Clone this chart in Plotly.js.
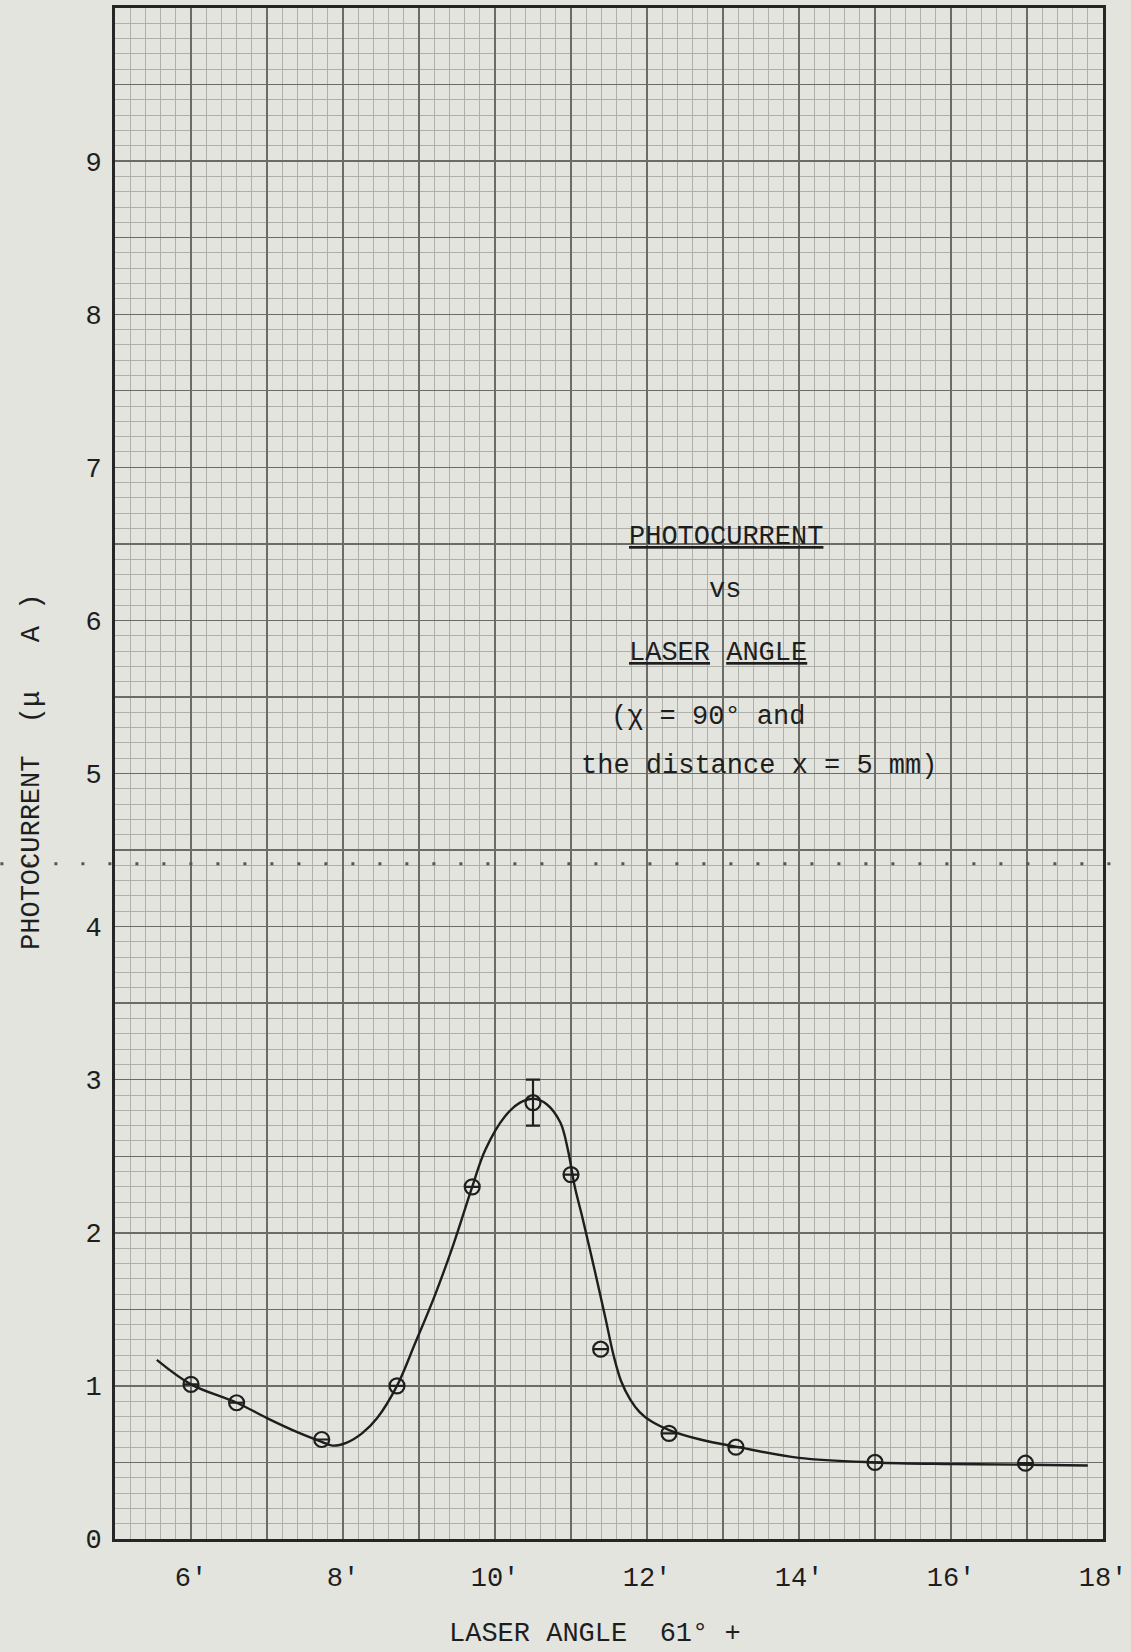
<!DOCTYPE html>
<html>
<head>
<meta charset="utf-8">
<script src="https://cdn.plot.ly/plotly-3.0.1.min.js"></script>
<style>
  html, body { margin: 0; padding: 0; background: #e3e4de; }
  #chart { width: 1131px; height: 1652px; }
</style>
</head>
<body>
<div id="chart"></div>
<script>
// Measured points (laser angle in minutes beyond 61°, photocurrent in µA)
const pointAngle   = [6.0, 6.6, 7.72, 8.71, 9.70, 10.50, 11.0, 11.39, 12.29, 13.17, 15.0, 16.98];
const pointCurrent = [1.01, 0.89, 0.65, 1.00, 2.30, 2.85, 2.38, 1.24, 0.69, 0.60, 0.50, 0.495];
// Error bar (only on the peak point)
const pointError   = [null, null, null, null, null, 0.15, null, null, null, null, null, null];

// Hand-drawn fitted curve
const curveAngle   = [5.55, 6.0, 6.6, 7.04, 7.39, 7.72, 7.86, 8.05, 8.25, 8.45, 8.71, 8.95, 9.2, 9.45, 9.70, 9.87, 10.13, 10.33, 10.52, 10.68, 10.86, 10.96, 11.05, 11.15, 11.3, 11.45, 11.56, 11.66, 11.78, 11.9, 12.05, 12.3, 12.7, 13.2, 14.0, 15.0, 16.0, 17.0, 17.8];
const curveCurrent = [1.17, 1.01, 0.89, 0.78, 0.70, 0.635, 0.61, 0.63, 0.69, 0.79, 1.0, 1.28, 1.58, 1.92, 2.30, 2.54, 2.76, 2.85, 2.875, 2.84, 2.72, 2.54, 2.30, 2.10, 1.78, 1.45, 1.20, 1.03, 0.91, 0.83, 0.77, 0.71, 0.65, 0.60, 0.53, 0.50, 0.49, 0.485, 0.48];

// Axis ticks / labels
const xTickVals  = [5, 6, 7, 8, 9, 10, 11, 12, 13, 14, 15, 16, 17, 18];
const xTickText  = ["", "6'", "", "8'", "", "10'", "", "12'", "", "14'", "", "16'", "", "18'"];
const yTickVals  = [0, 0.5, 1, 1.5, 2, 2.5, 3, 3.5, 4, 4.5, 5, 5.5, 6, 6.5, 7, 7.5, 8, 8.5, 9, 9.5, 10];
const yTickText  = ["0", "", "1", "", "2", "", "3", "", "4", "", "5", "", "6", "", "7", "", "8", "", "9", "", ""];

const dottedLineLevel = 4.41;

const FONT = "Liberation Mono, Courier New, monospace";
const INK = "#1e1e1e";

const traces = [
  {
    x: curveAngle, y: curveCurrent,
    type: "scatter", mode: "lines",
    line: { color: INK, width: 2.4, shape: "spline", smoothing: 1 },
    hoverinfo: "skip", showlegend: false
  },
  {
    x: pointAngle, y: pointCurrent,
    type: "scatter", mode: "markers",
    marker: { symbol: "circle-open", size: 15, color: INK, line: { color: INK, width: 2.2 } },
    error_y: { type: "data", array: pointError, visible: true, color: INK, thickness: 2.2, width: 7 },
    showlegend: false
  }
];

const layout = {
  width: 1131, height: 1652,
  margin: { l: 115, r: 28, t: 8, b: 113 },
  paper_bgcolor: "#e3e4de",
  plot_bgcolor: "#e3e4de",
  font: { family: FONT, color: INK, size: 27 },
  showlegend: false,
  xaxis: {
    range: [5, 18],
    tickmode: "array", tickvals: xTickVals, ticktext: xTickText,
    ticks: "", ticklabelstandoff: 12,
    showgrid: true, gridcolor: "#6b6b68", gridwidth: 1.4,
    minor: { tick0: 5, dtick: 0.2, showgrid: true, gridcolor: "#b0b0ab", gridwidth: 1 },
    showline: true, linecolor: "#262626", linewidth: 3, mirror: true,
    zeroline: false,
    tickfont: { family: FONT, size: 27, color: INK }
  },
  yaxis: {
    range: [0, 10],
    tickmode: "array", tickvals: yTickVals, ticktext: yTickText,
    ticks: "", ticklabelstandoff: 5,
    showgrid: true, gridcolor: "#6b6b68", gridwidth: 1.4,
    minor: { tick0: 0, dtick: 0.1, showgrid: true, gridcolor: "#b0b0ab", gridwidth: 1 },
    showline: true, linecolor: "#262626", linewidth: 3, mirror: true,
    zeroline: false,
    tickfont: { family: FONT, size: 27, color: INK }
  },
  shapes: [
    {
      type: "line", xref: "paper", yref: "y",
      x0: -0.116, x1: 1.02, y0: dottedLineLevel, y1: dottedLineLevel,
      line: { color: "#555", width: 3, dash: "3px,24px" }
    }
  ],
  annotations: [
    { text: "<u>PHOTOCURRENT</u>", x: 11.74, y: 6.545, xref: "x", yref: "y", xanchor: "left", yanchor: "middle", showarrow: false, font: { family: FONT, size: 27, color: INK } },
    { text: "vs", x: 13.03, y: 6.20, xref: "x", yref: "y", xanchor: "center", yanchor: "middle", showarrow: false, font: { family: FONT, size: 27, color: INK } },
    { text: "<u>LASER</u> <u>ANGLE</u>", x: 11.74, y: 5.785, xref: "x", yref: "y", xanchor: "left", yanchor: "middle", showarrow: false, font: { family: FONT, size: 27, color: INK } },
    { text: "(χ = 90° and", x: 11.5, y: 5.37, xref: "x", yref: "y", xanchor: "left", yanchor: "middle", showarrow: false, font: { family: FONT, size: 27, color: INK } },
    { text: "the distance x = 5 mm)", x: 11.1, y: 5.05, xref: "x", yref: "y", xanchor: "left", yanchor: "middle", showarrow: false, font: { family: FONT, size: 27, color: INK } },
    { text: "PHOTOCURRENT  (μ   A )", x: -0.084, y: 0.501, xref: "paper", yref: "paper", xanchor: "center", yanchor: "middle", textangle: -90, showarrow: false, font: { family: FONT, size: 27, color: INK } },
    { text: "LASER ANGLE  61° +", x: 0.486, y: -0.062, xref: "paper", yref: "paper", xanchor: "center", yanchor: "middle", showarrow: false, font: { family: FONT, size: 27, color: INK } }
  ]
};

Plotly.newPlot("chart", traces, layout, { displayModeBar: false, staticPlot: true });
</script>
</body>
</html>
